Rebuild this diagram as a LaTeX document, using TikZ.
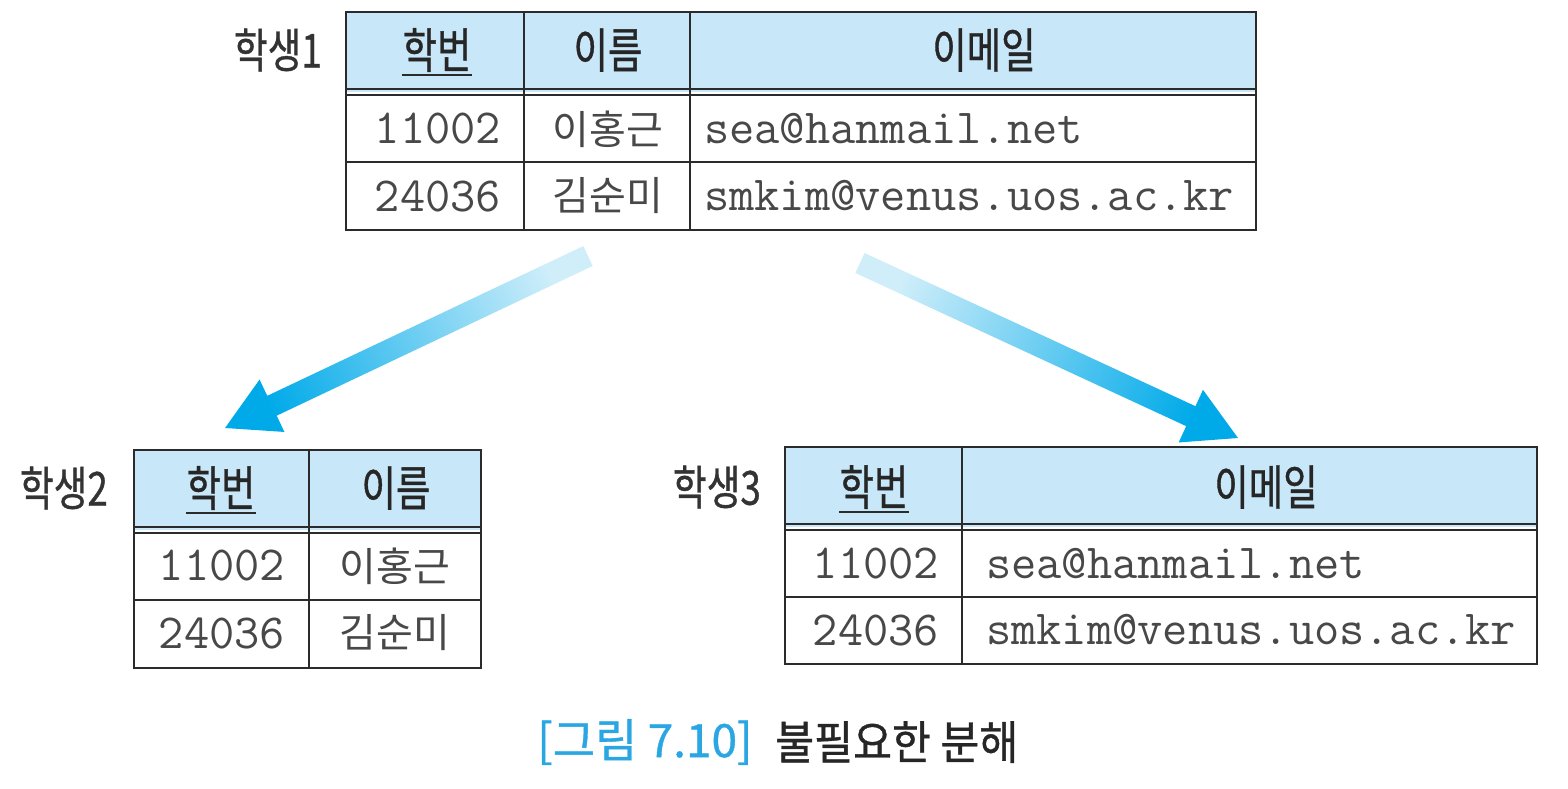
\documentclass[tikz,border=0pt]{standalone}
\usepackage{fontspec}
\usetikzlibrary{calc}
\newfontfamily\krfont[FakeStretch=0.78,FakeBold=0.8]{Noto Sans CJK KR}
\newfontfamily\krcapfont[FakeStretch=0.92,FakeBold=0.8]{Noto Sans CJK KR}
\newfontfamily\krcapbfont[FakeBold=0.8]{Noto Sans CJK KR}
\newfontfamily\krdatfont{Noto Sans CJK KR}
\definecolor{hdrblue}{HTML}{C8E8F9}
\definecolor{linec}{HTML}{2B2B2B}
\definecolor{datc}{HTML}{484848}
\definecolor{capblue}{HTML}{2AA6E2}
\definecolor{arrlight}{HTML}{CFEEFA}
\definecolor{arrdark}{HTML}{00AAE9}
\newcommand\hdrfont{\krfont\fontsize{48}{54}\selectfont}
\newcommand\lblfont{\krfont\fontsize{47}{54}\selectfont}
\newcommand\capfont{\krcapfont\fontsize{46}{52}\selectfont}
\newcommand\capbfont{\krcapbfont\fontsize{46}{52}\selectfont}
\newcommand\datkrfont{\krdatfont\fontsize{40}{46}\selectfont}
\newcommand\datmonofont{\ttfamily\fontsize{49}{55}\selectfont}
\tikzset{
  tline/.style={draw=linec, line width=2pt},
  hdrfill/.style={fill=hdrblue},
  hdr/.style={font=\hdrfont, text=black!85, inner sep=0pt},
  lbl/.style={font=\lblfont, text=black!80, inner sep=0pt, anchor=east},
  datnum/.style={font=\datmonofont, text=datc, inner sep=0pt},
  datmail/.style={font=\datmonofont, text=datc, inner sep=0pt, anchor=west},
  datkr/.style={font=\datkrfont, text=datc, inner sep=0pt},
  keyline/.style={draw=linec, line width=2pt},
  bigarrow/.style={bottom color=arrlight, top color=arrdark}
}
\begin{document}
\begin{tikzpicture}[x=1pt,y=-1pt]
\useasboundingbox (0,0) rectangle (1568,788);

% ---------- table 1 ----------
\fill[hdrfill] (346,12) rectangle (1256,92);
\draw[tline] (346,12) rectangle (1256,230);
\draw[tline] (524,12) -- (524,230);
\draw[tline] (690,12) -- (690,230);
\draw[tline] (346,89) -- (1256,89);
\draw[tline] (346,95) -- (1256,95);
\draw[tline] (346,162) -- (1256,162);
\node[lbl] (l1) at (322,50) {학생1};
\node[hdr] (t1h1) at (437,50) {학번};
\node[hdr] (t1h2) at (608,50) {이름};
\node[hdr] (t1h3) at (984,50) {이메일};
\draw[keyline] ([yshift=-7pt]t1h1.base west) -- ([yshift=-7pt]t1h1.base east);
\node[datnum] (t1r1c1) at (438,129) {11002};
\node[datkr] (t1r1c2) at (608,129) {이홍근};
\node[datmail] (t1r1c3) at (704,129) {sea@hanmail.net};
\node[datnum] (t1r2c1) at (438,196) {24036};
\node[datkr] (t1r2c2) at (608,196) {김순미};
\node[datmail] (t1r2c3) at (704,196) {smkim@venus.uos.ac.kr};

% ---------- table 2 ----------
\fill[hdrfill] (134,450) rectangle (481,530);
\draw[tline] (134,450) rectangle (481,668);
\draw[tline] (309,450) -- (309,668);
\draw[tline] (134,527) -- (481,527);
\draw[tline] (134,533) -- (481,533);
\draw[tline] (134,600) -- (481,600);
\node[lbl] (l2) at (108,488) {학생2};
\node[hdr] (t2h1) at (221,488) {학번};
\node[hdr] (t2h2) at (396,488) {이름};
\draw[keyline] ([yshift=-7pt]t2h1.base west) -- ([yshift=-7pt]t2h1.base east);
\node[datnum] (t2r1c1) at (222,566) {11002};
\node[datkr] (t2r1c2) at (395,566) {이홍근};
\node[datnum] (t2r2c1) at (222,633) {24036};
\node[datkr] (t2r2c2) at (395,633) {김순미};

% ---------- table 3 ----------
\fill[hdrfill] (785,447) rectangle (1537,527);
\draw[tline] (785,447) rectangle (1537,664);
\draw[tline] (962,447) -- (962,664);
\draw[tline] (785,524) -- (1537,524);
\draw[tline] (785,530) -- (1537,530);
\draw[tline] (785,597) -- (1537,597);
\node[lbl] (l3) at (761,487) {학생3};
\node[hdr] (t3h1) at (874,487) {학번};
\node[hdr] (t3h2) at (1266,487) {이메일};
\draw[keyline] ([yshift=-7pt]t3h1.base west) -- ([yshift=-7pt]t3h1.base east);
\node[datnum] (t3r1c1) at (876,564) {11002};
\node[datmail] (t3r1c2) at (986,564) {sea@hanmail.net};
\node[datnum] (t3r2c1) at (876,630) {24036};
\node[datmail] (t3r2c2) at (986,630) {smkim@venus.uos.ac.kr};

% ---------- arrows ----------
\coordinate (a1s) at (588,256);
\coordinate (a1t) at (225,428);
\coordinate (a2s) at (860,263);
\coordinate (a2t) at (1238,438);
\coordinate (a1h) at ($(a1t)!52pt!(a1s)$);
\coordinate (a2h) at ($(a2t)!52pt!(a2s)$);
\shade[bigarrow, shading angle=115]
  ($(a1s)!11pt!90:(a1t)$) -- ($(a1h)!11pt!-90:(a1s)$) -- ($(a1h)!29pt!-90:(a1s)$) -- (a1t)
  -- ($(a1h)!29pt!90:(a1s)$) -- ($(a1h)!11pt!90:(a1s)$) -- ($(a1s)!11pt!-90:(a1t)$) -- cycle;
\shade[bigarrow, shading angle=245]
  ($(a2s)!11pt!90:(a2t)$) -- ($(a2h)!11pt!-90:(a2s)$) -- ($(a2h)!29pt!-90:(a2s)$) -- (a2t)
  -- ($(a2h)!29pt!90:(a2s)$) -- ($(a2h)!11pt!90:(a2s)$) -- ($(a2s)!11pt!-90:(a2t)$) -- cycle;

% ---------- caption ----------
\node[font=\capbfont, text=capblue, inner sep=0pt, anchor=west] (capnum) at (537,742) {[그림 7.10]};
\node[font=\capfont, text=black!85, inner sep=0pt, anchor=west] (captxt) at (775,742) {불필요한 분해};
\end{tikzpicture}
\end{document}
